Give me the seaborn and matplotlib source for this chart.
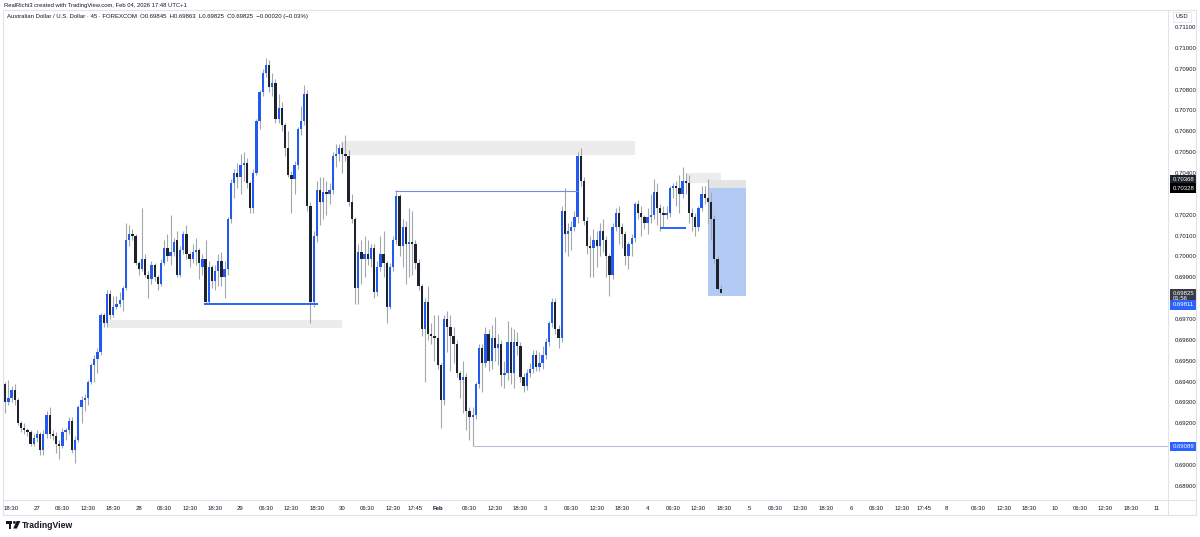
import numpy as np
import pandas as pd
import seaborn as sns
import matplotlib.pyplot as plt
from matplotlib.patches import Rectangle, Circle, Polygon

# AUD/USD 45 min candles
opens = [
    0.6939, 0.6930, 0.6932, 0.6936, 0.6931, 0.6920, 0.6918, 0.6917, 0.6916, 0.6910,
    0.6913, 0.6915, 0.6907, 0.6915, 0.6924, 0.6915, 0.6914, 0.6910, 0.6909, 0.6916,
    0.6917, 0.6921, 0.6907, 0.6912, 0.6928, 0.6931, 0.6932, 0.6940, 0.6948, 0.6951,
    0.6954, 0.6972, 0.6968, 0.6982, 0.6972, 0.6976, 0.6977, 0.6979, 0.6985, 0.7008,
    0.7011, 0.7010, 0.6997, 0.6994, 0.6999, 0.6991, 0.6989, 0.6996, 0.6990, 0.6987,
    0.6997, 0.7004, 0.7000, 0.7002, 0.7008, 0.6991, 0.7003, 0.7011, 0.7001, 0.6999,
    0.7002, 0.7003, 0.6995, 0.6999, 0.6978, 0.6995, 0.6988, 0.6993, 0.6998, 0.6990,
    0.6994, 0.7018, 0.7035, 0.7040, 0.7038, 0.7044, 0.7045, 0.7035, 0.7023, 0.7040,
    0.7065, 0.7079, 0.7088, 0.7092, 0.7081, 0.7083, 0.7066, 0.7071, 0.7063, 0.7052,
    0.7039, 0.7037, 0.7044, 0.7061, 0.7065, 0.7078, 0.7024, 0.6978, 0.7010, 0.7032,
    0.7026, 0.7031, 0.7030, 0.7032, 0.7048, 0.7049, 0.7052, 0.7049, 0.7048, 0.7026,
    0.7018, 0.6985, 0.7002, 0.6999, 0.7001, 0.6999, 0.7004, 0.6983, 0.6995, 0.7001,
    0.6997, 0.6976, 0.6995, 0.7008, 0.7029, 0.7005, 0.7014, 0.7006, 0.7007, 0.7006,
    0.6997, 0.6986, 0.6965, 0.6978, 0.6963, 0.6962, 0.6961, 0.6948, 0.6931, 0.6970,
    0.6966, 0.6962, 0.6958, 0.6944, 0.6941, 0.6942, 0.6926, 0.6923, 0.6924, 0.6939,
    0.6956, 0.6949, 0.6963, 0.6950, 0.6961, 0.6956, 0.6958, 0.6943, 0.6944, 0.6959,
    0.6944, 0.6959, 0.6957, 0.6942, 0.6938, 0.6944, 0.6946, 0.6953, 0.6947, 0.6949,
    0.6953, 0.6959, 0.6968, 0.6978, 0.6965, 0.6961, 0.7022, 0.7011, 0.7012, 0.7014,
    0.7019, 0.7048, 0.7036, 0.7017, 0.7005, 0.7004, 0.7008, 0.7005, 0.7012, 0.7008,
    0.7000, 0.6991, 0.7014, 0.7021, 0.7014, 0.7011, 0.7000, 0.7006, 0.7009, 0.7025,
    0.7021, 0.7019, 0.7016, 0.7019, 0.7020, 0.7031, 0.7023, 0.7021, 0.7020, 0.7021,
    0.7033, 0.7034, 0.7033, 0.7030, 0.7036, 0.7035, 0.7021, 0.7019, 0.7014, 0.7023,
    0.7030, 0.7028, 0.7026, 0.7018, 0.6999, 0.69845,
]
highs = [
    0.6940, 0.6941, 0.6938, 0.6939, 0.6932, 0.6921, 0.6920, 0.6918, 0.6917, 0.6915,
    0.6917, 0.6916, 0.6917, 0.6926, 0.6928, 0.6917, 0.6916, 0.6912, 0.6918, 0.6918,
    0.6923, 0.6923, 0.6914, 0.6929, 0.6933, 0.6934, 0.6941, 0.6949, 0.6953, 0.6956,
    0.6973, 0.6973, 0.6984, 0.6984, 0.6981, 0.6981, 0.6983, 0.6986, 0.7016, 0.7015,
    0.7013, 0.7011, 0.6998, 0.7023, 0.7001, 0.6993, 0.6998, 0.6997, 0.6991, 0.6999,
    0.7008, 0.7011, 0.7020, 0.7009, 0.7012, 0.7005, 0.7012, 0.7015, 0.7002, 0.7006,
    0.7009, 0.7004, 0.7001, 0.7008, 0.6998, 0.6996, 0.6996, 0.7001, 0.7002, 0.6998,
    0.7019, 0.7037, 0.7042, 0.7045, 0.7049, 0.7050, 0.7047, 0.7036, 0.7042, 0.7066,
    0.7080, 0.7090, 0.7095, 0.7094, 0.7088, 0.7085, 0.7078, 0.7074, 0.7064, 0.7060,
    0.7041, 0.7046, 0.7062, 0.7072, 0.7082, 0.7080, 0.7026, 0.7012, 0.7036, 0.7038,
    0.7038, 0.7036, 0.7035, 0.7050, 0.7054, 0.7054, 0.7055, 0.7058, 0.7051, 0.7030,
    0.7019, 0.7006, 0.7008, 0.7010, 0.7008, 0.7006, 0.7006, 0.6998, 0.7010, 0.7012,
    0.6998, 0.6997, 0.7010, 0.7032, 0.7030, 0.7018, 0.7017, 0.7023, 0.7022, 0.7008,
    0.6999, 0.6987, 0.6980, 0.6986, 0.6968, 0.6972, 0.6972, 0.6949, 0.6972, 0.6974,
    0.6972, 0.6966, 0.6960, 0.6945, 0.6950, 0.6944, 0.6928, 0.6928, 0.6940, 0.6958,
    0.6958, 0.6966, 0.6965, 0.6967, 0.6971, 0.6963, 0.6960, 0.6950, 0.6969, 0.6966,
    0.6965, 0.6964, 0.6959, 0.6944, 0.6946, 0.6949, 0.6955, 0.6955, 0.6954, 0.6957,
    0.6961, 0.6969, 0.6980, 0.6980, 0.6967, 0.7024, 0.7033, 0.7016, 0.7017, 0.7022,
    0.7050, 0.7052, 0.7038, 0.7019, 0.7010, 0.7013, 0.7012, 0.7016, 0.7018, 0.7010,
    0.7001, 0.7016, 0.7023, 0.7024, 0.7016, 0.7012, 0.7007, 0.7011, 0.7026, 0.7027,
    0.7024, 0.7020, 0.7023, 0.7030, 0.7037, 0.7035, 0.7025, 0.7024, 0.7024, 0.7034,
    0.7035, 0.7036, 0.7039, 0.7043, 0.7040, 0.7039, 0.7023, 0.7021, 0.7024, 0.7034,
    0.7034, 0.7037, 0.7031, 0.7020, 0.7000, 0.69863,
]
lows = [
    0.6925, 0.6929, 0.6930, 0.6929, 0.6919, 0.6916, 0.6915, 0.6914, 0.6909, 0.6909,
    0.6911, 0.6905, 0.6905, 0.6913, 0.6913, 0.6912, 0.6906, 0.6903, 0.6908, 0.6912,
    0.6915, 0.6906, 0.6901, 0.6911, 0.6920, 0.6926, 0.6929, 0.6939, 0.6940, 0.6944,
    0.6953, 0.6966, 0.6966, 0.6970, 0.6971, 0.6975, 0.6976, 0.6974, 0.6984, 0.7005,
    0.7008, 0.6996, 0.6991, 0.6993, 0.6990, 0.6980, 0.6987, 0.6988, 0.6984, 0.6986,
    0.6996, 0.6998, 0.6996, 0.7000, 0.6990, 0.6990, 0.7001, 0.6999, 0.6995, 0.6997,
    0.6996, 0.6989, 0.6991, 0.6977, 0.6977, 0.6985, 0.6984, 0.6986, 0.6986, 0.6980,
    0.6991, 0.7016, 0.7028, 0.7033, 0.7030, 0.7036, 0.7033, 0.7021, 0.7021, 0.7039,
    0.7061, 0.7077, 0.7086, 0.7079, 0.7077, 0.7064, 0.7064, 0.7060, 0.7048, 0.7038,
    0.7021, 0.7030, 0.7042, 0.7058, 0.7063, 0.7022, 0.6968, 0.6976, 0.7007, 0.7015,
    0.7018, 0.7020, 0.7025, 0.7030, 0.7043, 0.7046, 0.7040, 0.7046, 0.7024, 0.7016,
    0.6977, 0.6977, 0.6987, 0.6990, 0.6996, 0.6995, 0.6980, 0.6981, 0.6993, 0.6990,
    0.6968, 0.6975, 0.6993, 0.7006, 0.7000, 0.6995, 0.6987, 0.6990, 0.6991, 0.6994,
    0.6984, 0.6962, 0.6940, 0.6960, 0.6958, 0.6950, 0.6946, 0.6918, 0.6929, 0.6954,
    0.6945, 0.6949, 0.6942, 0.6932, 0.6925, 0.6917, 0.6912, 0.69089, 0.6922, 0.6937,
    0.6935, 0.6947, 0.6945, 0.6946, 0.6950, 0.6948, 0.6938, 0.6937, 0.6941, 0.6939,
    0.6937, 0.6953, 0.6940, 0.6935, 0.6936, 0.6942, 0.6944, 0.6945, 0.6945, 0.6946,
    0.6951, 0.6957, 0.6966, 0.6963, 0.6956, 0.6959, 0.7002, 0.7000, 0.7003, 0.7012,
    0.7016, 0.7034, 0.7015, 0.7001, 0.6990, 0.6990, 0.6995, 0.7000, 0.7002, 0.6990,
    0.6981, 0.6989, 0.7012, 0.7006, 0.7004, 0.6996, 0.6994, 0.7000, 0.7007, 0.7018,
    0.7010, 0.7013, 0.7011, 0.7016, 0.7018, 0.7015, 0.7012, 0.7014, 0.7018, 0.7019,
    0.7028, 0.7024, 0.7021, 0.7028, 0.7030, 0.7016, 0.7012, 0.7010, 0.7012, 0.7022,
    0.7025, 0.7016, 0.7008, 0.6997, 0.6984, 0.69825,
]
closes = [
    0.6930, 0.6932, 0.6936, 0.6931, 0.6920, 0.6918, 0.6917, 0.6916, 0.6910, 0.6913,
    0.6915, 0.6907, 0.6915, 0.6924, 0.6915, 0.6914, 0.6910, 0.6909, 0.6916, 0.6917,
    0.6921, 0.6907, 0.6912, 0.6928, 0.6931, 0.6932, 0.6940, 0.6948, 0.6951, 0.6954,
    0.6972, 0.6968, 0.6982, 0.6972, 0.6976, 0.6977, 0.6979, 0.6985, 0.7008, 0.7011,
    0.7010, 0.6997, 0.6994, 0.6999, 0.6991, 0.6989, 0.6996, 0.6990, 0.6987, 0.6997,
    0.7004, 0.7000, 0.7002, 0.7007, 0.6991, 0.7003, 0.7011, 0.7001, 0.6999, 0.7002,
    0.7003, 0.6997, 0.6999, 0.6978, 0.6995, 0.6988, 0.6993, 0.6998, 0.6990, 0.6994,
    0.7018, 0.7035, 0.7040, 0.7038, 0.7044, 0.7045, 0.7035, 0.7023, 0.7040, 0.7065,
    0.7079, 0.7088, 0.7092, 0.7081, 0.7083, 0.7066, 0.7071, 0.7063, 0.7052, 0.7039,
    0.7037, 0.7044, 0.7061, 0.7065, 0.7078, 0.7024, 0.6978, 0.7010, 0.7032, 0.7026,
    0.7031, 0.7030, 0.7032, 0.7048, 0.7049, 0.7052, 0.7049, 0.7048, 0.7026, 0.7018,
    0.6985, 0.7002, 0.6999, 0.7001, 0.6999, 0.7004, 0.6983, 0.6995, 0.7001, 0.6997,
    0.6976, 0.6995, 0.7008, 0.7029, 0.7005, 0.7014, 0.7006, 0.7007, 0.7006, 0.6997,
    0.6986, 0.6965, 0.6978, 0.6963, 0.6962, 0.6961, 0.6948, 0.6931, 0.6970, 0.6966,
    0.6962, 0.6958, 0.6944, 0.6941, 0.6942, 0.6926, 0.6923, 0.6924, 0.6939, 0.6956,
    0.6949, 0.6963, 0.6950, 0.6961, 0.6956, 0.6958, 0.6943, 0.6944, 0.6959, 0.6944,
    0.6959, 0.6957, 0.6942, 0.6938, 0.6944, 0.6946, 0.6953, 0.6947, 0.6949, 0.6953,
    0.6959, 0.6968, 0.6978, 0.6965, 0.6961, 0.7022, 0.7011, 0.7012, 0.7014, 0.7019,
    0.7048, 0.7036, 0.7017, 0.7005, 0.7004, 0.7008, 0.7005, 0.7012, 0.7008, 0.7000,
    0.6991, 0.7014, 0.7021, 0.7014, 0.7011, 0.7000, 0.7006, 0.7009, 0.7025, 0.7021,
    0.7019, 0.7016, 0.7019, 0.7020, 0.7031, 0.7023, 0.7021, 0.7020, 0.7021, 0.7033,
    0.7034, 0.7033, 0.7030, 0.7036, 0.7035, 0.7021, 0.7019, 0.7014, 0.7023, 0.7030,
    0.7028, 0.7026, 0.7018, 0.6999, 0.69845, 0.69825,
]

# time axis: bar slot of each label
tick_slots = [2, 10, 18, 26, 34, 42, 50, 58, 66, 74, 82, 90, 98, 106, 114, 122,
              129, 136, 146, 154, 162, 170, 178, 186, 194, 202, 210, 218, 226,
              234, 242, 250, 258, 266, 274, 282, 289, 296, 306, 314, 322, 330,
              338, 346, 354, 362]
tick_labels = ['18:30', '27', '06:30', '12:30', '18:30', '28', '06:30', '12:30',
               '18:30', '29', '06:30', '12:30', '18:30', '30', '06:30', '12:30',
               '17:45', 'Feb', '06:30', '12:30', '18:30', '3', '06:30', '12:30',
               '18:30', '4', '06:30', '12:30', '18:30', '5', '06:30', '12:30',
               '18:30', '6', '06:30', '12:30', '17:45', '8', '06:30', '12:30',
               '18:30', '10', '06:30', '12:30', '18:30', '11']

# price scale labels hidden behind the tags
hidden_prices = ['0.70300', '0.69800', '0.69100']

# drawings on the chart (bar slots / prices)
gray_zones = [(32.3, 105.9, 0.69657, 0.69695),
              (105.5, 198.0, 0.70486, 0.70553),
              (214.4, 225.1, 0.70350, 0.70400)]
level_lines = [(62.5, 98.5, 0.69772), (206.0, 214.0, 0.70136)]
thin_line = (122.6, 180.0, 0.70314)
low_line = (147, 0.69089)
position = (221.0, 233.0, 0.69811, 0.70328, 0.70368)

UP = '#2259ee'
DOWN = '#1e222d'
WICK = '#a3a6ad'
BORDER = '#e0e3eb'
TXT = '#131722'

sns.set_theme(style='white')
plt.rcParams['font.family'] = ['Liberation Sans', 'DejaVu Sans']

df = pd.DataFrame({'open': opens, 'high': highs, 'low': lows, 'close': closes})
df['slot'] = np.arange(len(df))
df['up'] = df['close'] >= df['open']

fig = plt.figure(figsize=(12, 5.37), dpi=100)
W, H = 1200, 537
ax = fig.add_axes([3 / W, 1 - 500 / H, 1165 / W, 490 / H])
ax.set_facecolor('white')

# zones and lines
for x0, x1, y0, y1 in gray_zones:
    ax.fill_between([x0, x1], y0, y1, color='#ececec', lw=0, zorder=1)
for x0, x1, y in level_lines:
    ax.hlines(y, x0, x1, color='#2962ff', lw=1.4, zorder=4)
ax.hlines(thin_line[2], thin_line[0], thin_line[1], color='#6f8fe3', lw=0.8, zorder=4)
px0, px1, plo, pentry, ptop = position
ax.fill_between([px0, px1], pentry, ptop, color='#e4e4e4', lw=0, zorder=1)
ax.fill_between([px0, px1], plo, pentry, color='#b3cbf4', lw=0, zorder=1)

# candles
ax.vlines(df['slot'], df['low'], df['high'], color=WICK, lw=0.8, zorder=2)
body_lo = df[['open', 'close']].min(axis=1)
body_h = (df['close'] - df['open']).abs().clip(lower=0.00004)
ax.bar(df['slot'], body_h, bottom=body_lo, width=0.72,
       color=np.where(df['up'], UP, DOWN), linewidth=0, zorder=3)

ax.set_xlim(-0.69, 365.66)
ax.set_ylim(0.688325, 0.711815)
ax.hlines(low_line[1], low_line[0], 365.66, color='#b8c3da', lw=0.8, zorder=4)

for s in ax.spines.values():
    s.set_visible(False)

ax.set_xticks(tick_slots)
ax.set_xticklabels(tick_labels, fontsize=4.3, color=TXT)
for lab in ax.get_xticklabels():
    if lab.get_text() == 'Feb':
        lab.set_fontweight('bold')
ax.tick_params(axis='x', length=0, pad=4)

yt = np.arange(0.689, 0.71105, 0.001)
ylabels = [f'{v:.5f}' for v in yt]
ylabels = ['' if s in hidden_prices else s for s in ylabels]
ax.yaxis.tick_right()
ax.set_yticks(yt)
ax.set_yticklabels(ylabels, fontsize=4.3, color=TXT)
ax.tick_params(axis='y', length=0, pad=5)
ax.grid(False)

# price scale tags
tags = [('0.70368', 0.70368, 0, DOWN), ('0.70328', 0.70328, 0, '#000000'),
        ('0.69825\n01:56', 0.69825, -2.3, '#363a45'), ('0.69811', 0.69811, -6.5, '#2962ff'),
        ('0.69089', 0.69089, 0, '#2962ff')]
for txt, price, dy, col in tags:
    ax.annotate(txt, xy=(1.0, price), xycoords=('axes fraction', 'data'),
                xytext=(3.2, dy), textcoords='offset points', ha='left', va='center',
                fontsize=4.3, color='white', linespacing=1.1,
                bbox=dict(boxstyle='square,pad=0.35', fc=col, ec='none'),
                annotation_clip=False, zorder=6)

# frame, header and logo in pixel space
ov = fig.add_axes([0, 0, 1, 1])
ov.set_xlim(0, W)
ov.set_ylim(H, 0)
ov.axis('off')
ov.patch.set_alpha(0)
ov.add_patch(Rectangle((3, 10), 1193, 505, fill=False, ec=BORDER, lw=0.8))
ov.plot([1168, 1168], [10, 515], color=BORDER, lw=0.8)
ov.plot([3, 1196], [500, 500], color=BORDER, lw=0.8)
ov.text(4, 5, 'RealRichi3 created with TradingView.com, Feb 04, 2026 17:48 UTC+1',
        fontsize=4.2, color=TXT, va='center', ha='left')
ov.text(7, 16.5, 'Australian Dollar / U.S. Dollar \u00b7 45 \u00b7 FOREXCOM  '
        'O0.69845  H0.69863  L0.69825  C0.69825  \u22120.00020 (\u22120.03%)',
        fontsize=4.3, color=TXT, va='center', ha='left')
ov.text(1182, 17, 'USD', fontsize=4.2, color=TXT, va='center', ha='center',
        bbox=dict(boxstyle='square,pad=0.4', fc='white', ec=BORDER, lw=0.6))
ov.add_patch(Rectangle((5.5, 521), 6.5, 2.8, color='#131722', lw=0))
ov.add_patch(Rectangle((8.6, 521), 2.8, 7.5, color='#131722', lw=0))
ov.add_patch(Circle((14.4, 522.4), 1.4, color='#131722', lw=0))
ov.add_patch(Polygon([(16.6, 521), (20.4, 521), (16.9, 528.5), (13.2, 528.5)],
                     closed=True, color='#131722', lw=0))
ov.text(22, 525, 'TradingView', fontsize=6.2, fontweight='bold', color=TXT,
        va='center', ha='left')

fig.savefig('out.png', dpi=100, facecolor='white')
